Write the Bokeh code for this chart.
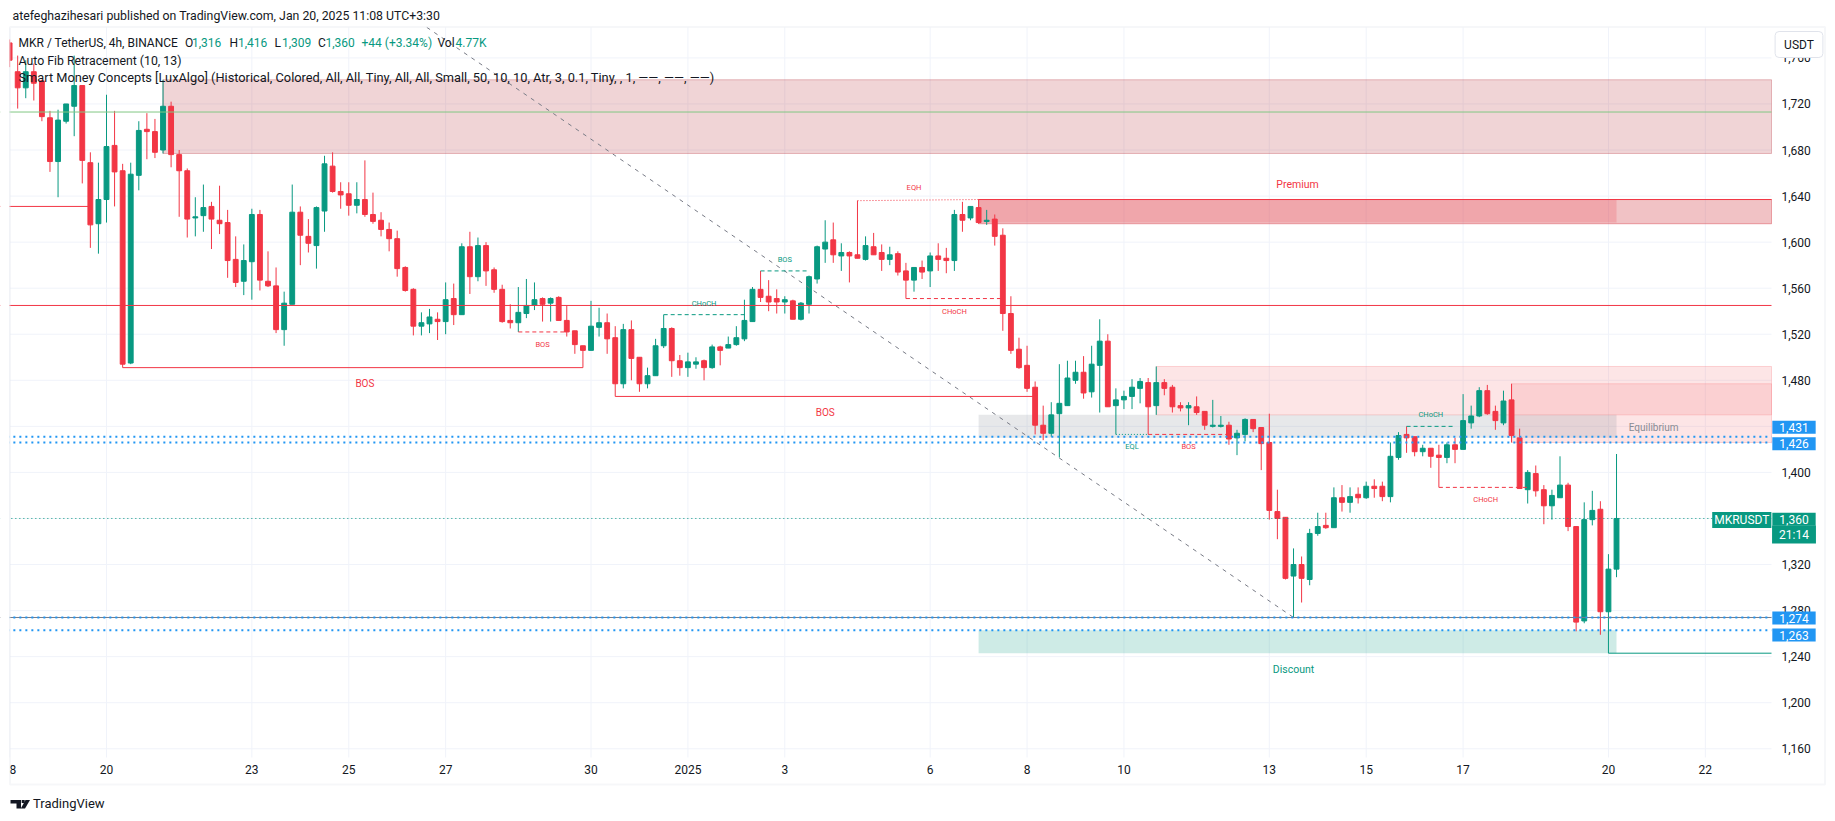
from bokeh.plotting import figure
from bokeh.models import (ColumnDataSource, Range1d, FixedTicker, NumeralTickFormatter,
                          Label, BoxAnnotation, PolyAnnotation)
from bokeh.core.properties import value
from bokeh.embed import file_html
from bokeh.resources import INLINE

# ---------------- data (MKR / TetherUS, 4h, BINANCE) ----------------
bar_days = 4 / 24  # one candle every 4 hours; bar 0 = Dec 18 (day 0)

opens = [1773, 1748, 1734, 1748, 1740, 1708, 1670, 1705, 1718, 1736,
         1669, 1616, 1637, 1684, 1662, 1495, 1658, 1698, 1696, 1680,
         1718, 1676, 1662, 1621, 1623, 1631, 1619, 1617, 1585, 1566,
         1583, 1624, 1566, 1562, 1524, 1546, 1626, 1605, 1597, 1627,
         1666, 1644, 1642, 1632, 1637, 1624, 1619, 1611, 1603, 1578,
         1559, 1527, 1529, 1533, 1531, 1551, 1537, 1596, 1570, 1597,
         1576, 1559, 1532, 1530, 1538, 1545, 1551, 1547, 1552, 1532,
         1523, 1510, 1506, 1526, 1530, 1517, 1477, 1524, 1500, 1477,
         1484, 1510, 1525, 1497, 1491, 1494, 1497, 1491, 1509, 1508,
         1511, 1516, 1531, 1559, 1553, 1551, 1548, 1549, 1533, 1546,
         1568, 1594, 1602, 1588, 1591, 1589, 1585, 1596, 1591, 1585,
         1590, 1575, 1567, 1578, 1575, 1588, 1586, 1584, 1624, 1621,
         1630, 1618, 1620, 1606, 1538, 1507, 1493, 1474, 1441, 1434,
         1451, 1458, 1480, 1487, 1470, 1493, 1514, 1458, 1463, 1466,
         1473, 1478, 1458, 1478, 1474, 1458, 1456, 1457, 1453, 1440,
         1440, 1441, 1430, 1433, 1446, 1439, 1426, 1366, 1361, 1310,
         1320, 1307, 1347, 1354, 1352, 1378, 1374, 1381, 1378, 1388,
         1388, 1379, 1413, 1433, 1431, 1418, 1421, 1415, 1413, 1424,
         1420, 1443, 1449, 1471, 1453, 1443, 1463, 1430, 1385, 1399,
         1385, 1371, 1378, 1389, 1353, 1271, 1359, 1368, 1279, 1316]
highs = [1776, 1762, 1758, 1755, 1741, 1714, 1715, 1720, 1762, 1736,
         1678, 1669, 1728, 1714, 1668, 1669, 1705, 1712, 1707, 1741,
         1722, 1680, 1664, 1639, 1650, 1635, 1649, 1628, 1605, 1598,
         1629, 1628, 1592, 1578, 1557, 1650, 1631, 1620, 1631, 1675,
         1678, 1652, 1652, 1652, 1671, 1643, 1626, 1617, 1610, 1579,
         1560, 1539, 1542, 1539, 1565, 1564, 1599, 1609, 1604, 1600,
         1578, 1563, 1546, 1561, 1568, 1565, 1552, 1552, 1553, 1545,
         1523, 1510, 1549, 1543, 1538, 1527, 1529, 1532, 1500, 1491,
         1516, 1537, 1526, 1502, 1504, 1500, 1498, 1511, 1510, 1518,
         1527, 1550, 1561, 1575, 1567, 1559, 1553, 1550, 1548, 1571,
         1597, 1619, 1617, 1599, 1592, 1636, 1605, 1608, 1598, 1596,
         1592, 1582, 1578, 1584, 1591, 1599, 1595, 1628, 1635, 1631,
         1637, 1628, 1624, 1612, 1553, 1517, 1510, 1479, 1458, 1461,
         1494, 1497, 1497, 1501, 1510, 1533, 1520, 1473, 1471, 1481,
         1482, 1482, 1492, 1481, 1476, 1461, 1461, 1466, 1453, 1463,
         1449, 1444, 1437, 1447, 1446, 1439, 1451, 1385, 1361, 1334,
         1327, 1351, 1365, 1365, 1387, 1389, 1387, 1387, 1392, 1394,
         1392, 1426, 1435, 1440, 1431, 1424, 1421, 1424, 1426, 1430,
         1468, 1458, 1474, 1476, 1458, 1471, 1477, 1438, 1402, 1406,
         1389, 1385, 1414, 1391, 1353, 1374, 1384, 1375, 1329, 1416]
lows = [1752, 1716, 1725, 1723, 1705, 1661, 1639, 1703, 1692, 1651,
        1595, 1590, 1617, 1631, 1491, 1494, 1645, 1672, 1673, 1677,
        1665, 1622, 1604, 1605, 1609, 1594, 1607, 1569, 1561, 1554,
        1550, 1558, 1561, 1521, 1510, 1546, 1580, 1591, 1577, 1609,
        1643, 1629, 1623, 1625, 1622, 1616, 1605, 1592, 1570, 1557,
        1519, 1519, 1521, 1515, 1520, 1528, 1537, 1555, 1566, 1562,
        1556, 1530, 1525, 1522, 1534, 1541, 1531, 1531, 1532, 1518,
        1503, 1491, 1506, 1518, 1503, 1466, 1473, 1480, 1470, 1473,
        1484, 1508, 1483, 1484, 1483, 1490, 1480, 1490, 1493, 1508,
        1510, 1514, 1531, 1548, 1540, 1538, 1538, 1533, 1532, 1538,
        1564, 1582, 1582, 1575, 1565, 1586, 1584, 1589, 1575, 1580,
        1571, 1551, 1557, 1568, 1561, 1575, 1573, 1575, 1609, 1619,
        1616, 1615, 1597, 1523, 1503, 1490, 1470, 1433, 1428, 1431,
        1413, 1458, 1477, 1464, 1465, 1452, 1457, 1433, 1455, 1455,
        1460, 1433, 1450, 1467, 1452, 1453, 1441, 1450, 1437, 1439,
        1439, 1424, 1415, 1427, 1435, 1402, 1359, 1342, 1307, 1274,
        1287, 1302, 1345, 1351, 1352, 1366, 1365, 1373, 1377, 1378,
        1375, 1374, 1411, 1417, 1414, 1414, 1404, 1387, 1408, 1408,
        1420, 1438, 1448, 1450, 1437, 1441, 1426, 1386, 1373, 1379,
        1355, 1359, 1378, 1349, 1262, 1269, 1354, 1259, 1243, 1309]
closes = [1758, 1734, 1748, 1738, 1709, 1670, 1706, 1720, 1736, 1671,
          1615, 1637, 1683, 1661, 1494, 1659, 1697, 1696, 1678, 1718,
          1676, 1662, 1620, 1622, 1630, 1620, 1616, 1584, 1565, 1584,
          1624, 1567, 1562, 1524, 1547, 1626, 1606, 1599, 1630, 1668,
          1644, 1641, 1632, 1637, 1624, 1618, 1611, 1603, 1577, 1558,
          1527, 1530, 1535, 1531, 1550, 1537, 1596, 1570, 1597, 1575,
          1559, 1531, 1530, 1539, 1545, 1550, 1546, 1551, 1532, 1522,
          1511, 1506, 1527, 1530, 1516, 1477, 1524, 1499, 1477, 1484,
          1510, 1525, 1497, 1491, 1496, 1496, 1491, 1509, 1506, 1511,
          1517, 1532, 1559, 1552, 1548, 1548, 1550, 1533, 1547, 1570,
          1596, 1600, 1589, 1591, 1588, 1586, 1597, 1589, 1585, 1589,
          1574, 1567, 1578, 1574, 1588, 1585, 1584, 1624, 1619, 1631,
          1617, 1619, 1605, 1538, 1506, 1491, 1473, 1441, 1434, 1450,
          1460, 1482, 1487, 1469, 1494, 1514, 1457, 1463, 1466, 1474,
          1479, 1457, 1478, 1473, 1457, 1456, 1458, 1452, 1441, 1441,
          1441, 1429, 1434, 1446, 1438, 1425, 1367, 1360, 1308, 1320,
          1308, 1347, 1353, 1352, 1378, 1374, 1379, 1378, 1388, 1386,
          1379, 1414, 1432, 1430, 1418, 1421, 1414, 1413, 1424, 1420,
          1445, 1449, 1471, 1451, 1445, 1462, 1432, 1386, 1400, 1384,
          1371, 1380, 1389, 1353, 1270, 1359, 1367, 1279, 1316, 1360]

tick_days = [0, 2, 5, 7, 9, 12, 14, 16, 19, 21, 23, 26, 28, 30, 33, 35]
tick_labels = ["18", "20", "23", "25", "27", "30", "2025", "3", "6", "8",
               "10", "13", "15", "17", "20", "22"]
price_ticks = [1160, 1200, 1240, 1280, 1320, 1360, 1400, 1440, 1480, 1520,
               1560, 1600, 1640, 1680, 1720, 1760]

# Smart Money Concepts: order blocks (start bar, top, bottom, colour)
ob_bar = [19, 120, 120, 142, 186]
ob_top = [1741, 1637, 1637, 1492, 1477]
ob_bottom = [1677, 1616, 1616, 1450, 1426]
ob_color = ["#b22833", "#b22833", "#f77c80", "#f77c80", "#f77c80"]

# premium / equilibrium / discount zones
zone_start_bar, zone_end_bar = 120, 199
zone_top = [1637, 1450, 1263]
zone_bottom = [1617, 1430, 1243]
zone_color = ["#f23645", "#878b94", "#089981"]

# swing structure lines (solid)
swing_start = [-6, 14, 75]
swing_end = [10, 71, 127]
swing_level = [1631, 1491, 1466]
strong_high_bar, strong_high = 120, 1637
strong_low_bar, strong_low = 198, 1243

# internal structure lines (dashed)
int_start = [63, 81, 93, 111, 141, 173, 177]
int_end = [69, 91, 99, 123, 151, 179, 188]
int_level = [1522, 1537, 1575, 1551, 1433, 1440, 1387]
int_color = ["#f23645", "#089981", "#089981", "#f23645", "#f23645", "#089981", "#f23645"]

# equal highs / lows (dotted)
eq_bar0 = [105, 137]
eq_p0 = [1636, 1433]
eq_bar1 = [120, 141]
eq_p1 = [1637, 1433]
eq_color = ["#f23645", "#089981"]

label_text = ["BOS", "BOS", "BOS", "CHoCH", "BOS", "EQH", "CHoCH", "EQL", "BOS",
              "CHoCH", "CHoCH", "Premium", "Discount", "Equilibrium"]
label_bar = [44, 101, 66, 86, 96, 112, 117, 139, 146, 176, 182.8, 159.5, 159, 203.6]
label_price = [1477, 1452, 1511.5, 1546.5, 1584.6, 1647.7, 1539.5, 1422.8, 1422.8,
               1450.3, 1376.2, 1650.3, 1229, 1439.3]
label_color = ["#f23645", "#f23645", "#f23645", "#089981", "#089981", "#f23645", "#f23645",
               "#089981", "#f23645", "#089981", "#f23645", "#f23645", "#089981", "#878b94"]
label_size = ["10px", "10px", "7.5px", "7.5px", "7.5px", "7.5px", "7.5px", "7.5px", "7.5px",
              "7.5px", "7.5px", "10.5px", "10.5px", "10px"]

# Auto Fib Retracement (10, 13)
fib_high_day, fib_high = -13.5, 2420
fib_low_bar, fib_low = 159, 1274
fib_levels = [1274, 1545, 1713]
fib_colors = ["#787b86", "#f23645", "#81c784"]

marked_levels = [1431, 1426, 1274, 1263]

# ---------------- page geometry (pixels) ----------------
UP, DOWN, TXT = "#089981", "#f23645", "#131722"
W, H = 1835, 821
DAY0_PX, PX_PER_DAY = 9.1, 48.45          # Dec 18 position, width of one day
P_REF, P_REF_PX, PX_PER_USD = 1720, 103.46, 1.15143
PLOT_L, PLOT_R, PLOT_T, PLOT_B = 9, 1771, 27, 757   # price pane inside the chart frame


def X(px):
    return (px - DAY0_PX) / PX_PER_DAY


def Y(py):
    return P_REF - (py - P_REF_PX) / PX_PER_USD


view_start, view_end = X(PLOT_L), X(PLOT_R)
pane_top, pane_bottom = Y(PLOT_T), Y(PLOT_B)

p = figure(width=W, height=H, x_range=Range1d(X(0), X(W)), y_range=Range1d(Y(H), Y(0)),
           output_backend="svg", toolbar_location=None, y_axis_location="right",
           min_border=0, min_border_left=0, min_border_right=0, min_border_top=0,
           min_border_bottom=0)
p.title.visible = False
p.outline_line_color = None
p.background_fill_color = "white"
p.border_fill_color = "white"
p.xgrid.visible = False
p.ygrid.visible = False

p.xaxis.ticker = FixedTicker(ticks=tick_days)
p.xaxis.major_label_overrides = {d: t for d, t in zip(tick_days, tick_labels)}
p.xaxis.fixed_location = pane_bottom
p.yaxis.ticker = FixedTicker(ticks=price_ticks)
p.yaxis.formatter = NumeralTickFormatter(format="0,0")
p.yaxis.fixed_location = view_end
for ax in (p.xaxis, p.yaxis):
    ax.axis_line_color = None
    ax.major_tick_line_color = None
    ax.minor_tick_line_color = None
    ax.major_tick_out = 0
    ax.major_tick_in = 0
    ax.major_label_text_font = "Roboto"
    ax.major_label_text_font_size = "12px"
    ax.major_label_text_color = TXT
p.xaxis.major_label_standoff = 7
p.yaxis.major_label_standoff = 10

# grid of the price pane
GRID = "#f0f3fa"
nt, npr = len(tick_days), len(price_ticks)
p.segment(x0=tick_days, x1=tick_days, y0=[pane_bottom] * nt, y1=[pane_top] * nt,
          line_color=GRID, line_width=1)
p.segment(x0=[view_start] * npr, x1=[view_end] * npr, y0=price_ticks, y1=price_ticks,
          line_color=GRID, line_width=1)

# zones
p.quad(left=[b * bar_days for b in ob_bar], right=[view_end] * len(ob_bar),
       top=ob_top, bottom=ob_bottom, fill_color=ob_color, fill_alpha=0.2,
       line_color=ob_color, line_alpha=0.3, line_width=1)
p.quad(left=[zone_start_bar * bar_days] * 3, right=[zone_end_bar * bar_days] * 3,
       top=zone_top, bottom=zone_bottom, fill_color=zone_color, fill_alpha=0.2,
       line_color=None)

# candles
xs = [i * bar_days for i in range(len(opens))]
col = [UP if c >= o else DOWN for o, c in zip(opens, closes)]
top = [max(o, c) for o, c in zip(opens, closes)]
bot = [min(o, c) for o, c in zip(opens, closes)]
csrc = ColumnDataSource(dict(x=xs, h=highs, l=lows, top=top, bot=bot, c=col))
p.segment(x0="x", y0="h", x1="x", y1="l", line_color="c", line_width=1, source=csrc)
p.vbar(x="x", width=0.1, top="top", bottom="bot", fill_color="c", line_color="c",
       line_width=1, source=csrc)

# auto fib
nf = len(fib_levels)
p.segment(x0=[fib_high_day] * nf, x1=[view_end] * nf, y0=fib_levels, y1=fib_levels,
          line_color=fib_colors, line_width=1)
p.line([fib_high_day, fib_low_bar * bar_days], [fib_high, fib_low], line_color="#787b86",
       line_width=1, line_dash="4 5")

# marked levels and last price line
n = len(marked_levels)
p.segment(x0=[-5] * n, x1=[view_end] * n, y0=marked_levels, y1=marked_levels,
          line_color="#2196f3", line_width=2, line_dash="2 4")
p.segment(x0=[-5], x1=[view_end], y0=[closes[-1]], y1=[closes[-1]],
          line_color=UP, line_width=1, line_dash="1 3")

# structure
p.segment(x0=[b * bar_days for b in swing_start], x1=[b * bar_days for b in swing_end],
          y0=swing_level, y1=swing_level, line_color=DOWN, line_width=1)
p.segment(x0=[strong_high_bar * bar_days, strong_low_bar * bar_days],
          x1=[view_end, view_end], y0=[strong_high, strong_low],
          y1=[strong_high, strong_low], line_color=[DOWN, UP], line_width=1)
p.segment(x0=[b * bar_days for b in int_start], x1=[b * bar_days for b in int_end],
          y0=int_level, y1=int_level, line_color=int_color, line_width=1, line_dash="4 3")
p.segment(x0=[b * bar_days for b in eq_bar0], x1=[b * bar_days for b in eq_bar1],
          y0=eq_p0, y1=eq_p1, line_color=eq_color, line_width=1, line_dash="1 2")

lsrc = ColumnDataSource(dict(x=[b * bar_days for b in label_bar], y=label_price,
                             t=label_text, c=label_color, s=label_size))
p.text(x="x", y="y", text="t", text_color="c", text_font_size="s",
       text_font=value("Roboto"), text_align="center", text_baseline="middle", source=lsrc)

# ---------------- frame masks, border, texts ----------------
p.add_layout(BoxAnnotation(left=X(-5), right=X(PLOT_L), top=Y(-5), bottom=Y(H + 5),
                           fill_color="white", fill_alpha=1, line_color=None))
p.add_layout(BoxAnnotation(left=X(-5), right=X(W + 5), top=Y(-5), bottom=Y(PLOT_T - 1),
                           fill_color="white", fill_alpha=1, line_color=None))
p.add_layout(BoxAnnotation(left=X(9.5), right=X(1824.5), top=Y(26.5), bottom=Y(784),
                           fill_alpha=0, fill_color=None, line_color="#e0e3eb", line_width=2))


def lab(px, py, text, color=TXT, size="12px", align="left", **kw):
    p.add_layout(Label(x=X(px), y=Y(py), text=text, text_color=color, text_font="Roboto",
                       text_font_size=size, text_align=align, text_baseline="middle", **kw))


lab(12, 15, "atefeghazihesari published on TradingView.com, Jan 20, 2025 11:08 UTC+3:30",
    size="12.3px")
legend = [(18, "MKR / TetherUS, 4h, BINANCE", TXT), (184.5, "O", TXT), (191.5, "1,316", UP),
          (229, "H", TXT), (237.5, "1,416", UP), (274, "L", TXT), (281.5, "1,309", UP),
          (317.5, "C", TXT), (325, "1,360", UP), (361, "+44 (+3.34%)", UP),
          (437, "Vol", TXT), (455, "4.77K", UP)]
for px, t, c in legend:
    lab(px, 42.3, t, c, "12px")
lab(18, 60, "Auto Fib Retracement (10, 13)", size="12.3px")
lab(18, 76.5, "Smart Money Concepts [LuxAlgo] (Historical, Colored, All, All, Tiny, All, All, "
              "Small, 50, 10, 10, Atr, 3, 0.1, Tiny, , 1, \u2014\u2014, \u2014\u2014, \u2014\u2014)",
    size="12.8px")

# price-scale badges
lab(1798.5, 44, "USDT", TXT, "12px", "center", background_fill_color="white",
    border_line_color="#e0e3eb", border_line_width=1, padding=(9, 6), border_radius=4)
for py, t in [(426.7, "1,431"), (443.3, "1,426"), (617.5, "1,274"), (634.5, "1,263")]:
    lab(1793.5, py, t, "white", "12px", "center", background_fill_color="#2196f3",
        padding=(7, 2))
lab(1741.3, 519.5, "MKRUSDT", "white", "12px", "center", background_fill_color=UP,
    padding=(2, 1))
lab(1793.5, 518.7, "1,360", "white", "12px", "center", background_fill_color=UP, padding=(7, 2))
lab(1793.5, 534.0, "21:14", "white", "12px", "center", background_fill_color=UP, padding=(7, 2))

# TradingView logo
p.add_layout(PolyAnnotation(xs=[X(10), X(20.5), X(20.5), X(16), X(16), X(10)],
                            ys=[Y(799.5), Y(799.5), Y(808), Y(808), Y(803), Y(803)],
                            fill_color=TXT, fill_alpha=1, line_color=None))
p.add_layout(PolyAnnotation(xs=[X(21.2), X(24.2), X(24.2), X(21.2)],
                            ys=[Y(799.5), Y(799.5), Y(802.6), Y(802.6)],
                            fill_color=TXT, fill_alpha=1, line_color=None))
p.add_layout(PolyAnnotation(xs=[X(25), X(29.5), X(24.5), X(20.3)],
                            ys=[Y(799.5), Y(799.5), Y(808), Y(808)],
                            fill_color=TXT, fill_alpha=1, line_color=None))
lab(32.5, 803, "TradingView", TXT, "13px")

open("out.html", "w").write(file_html(p, INLINE))
